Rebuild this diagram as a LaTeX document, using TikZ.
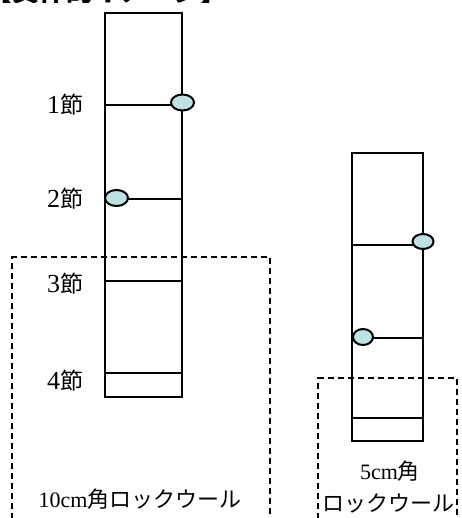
\documentclass[tikz,border=0pt]{standalone}
\usepackage{fontspec}
\setmainfont{Liberation Serif}
\newfontfamily\cjk{Noto Sans CJK JP}
\usetikzlibrary{shapes.geometric}
\definecolor{budfill}{RGB}{190,226,228}
\newcommand\knot[1]{{\fontsize{26}{28}\selectfont #1}{\cjk\fontsize{23}{28}\selectfont 節}}
\tikzset{
  stembox/.style={draw=black, line width=2pt, inner sep=0pt, minimum width=#1},
  budnode/.style={ellipse, draw=black, line width=2pt, fill=budfill, inner sep=0pt, minimum width=23pt, minimum height=16pt},
  divline/.style={draw=black, line width=2pt},
  woolbox/.style={draw=black, line width=1.8pt, dash pattern=on 6pt off 4pt},
  lbl/.style={inner sep=0pt, font=\fontsize{22}{26}\selectfont, align=center},
}
\begin{document}
\begin{tikzpicture}[x=1pt,y=-1pt]
\clip (0,0) rectangle (461,518);
\useasboundingbox (0,0) rectangle (461,518);
% heading, mostly cut off at the top
\node[anchor=base west, inner sep=0pt, font=\cjk\bfseries\fontsize{27}{27}\selectfont] (head) at (-15,1.5) {【具体的イメージ】};
\fill[white] (0,3) rectangle (260,30);
% rock wool blocks
\draw[woolbox] (12,518.5) -- (12,257) -- (270,257) -- (270,518.5) -- cycle;
\draw[woolbox] (318,518.5) -- (318,378) -- (457,378) -- (457,518.5) -- cycle;
% left stem
\node[stembox=77pt, minimum height=384pt] (s1) at (143.5,205) {};
\foreach \yy in {105,199,281,373} \draw[divline] (s1.west |- 0,\yy) -- (s1.east |- 0,\yy);
% right stem
\node[stembox=71pt, minimum height=288pt] (s2) at (387.5,297) {};
\foreach \yy in {245,338,418} \draw[divline] (s2.west |- 0,\yy) -- (s2.east |- 0,\yy);
% buds
\node[budnode] (b1) at (182.5,102.5) {};
\node[budnode] (b2) at (116.5,198) {};
\node[budnode, minimum width=21pt, minimum height=15pt] (b3) at (423,241.5) {};
\node[budnode, minimum width=20pt, minimum height=16pt] (b4) at (363,337) {};
% labels
\node[lbl] (n1) at (65,105) {\knot{1}};
\node[lbl] (n2) at (65,199) {\knot{2}};
\node[lbl] (n3) at (65,284) {\knot{3}};
\node[lbl] (n4) at (65,381) {\knot{4}};
\node[lbl] (w1) at (140,499) {10cm{\cjk 角ロックウール}};
\node[lbl] (w2a) at (390,471) {5cm{\cjk 角}};
\node[lbl] (w2b) at (388,503) {{\cjk ロックウール}};
\end{tikzpicture}
\end{document}
